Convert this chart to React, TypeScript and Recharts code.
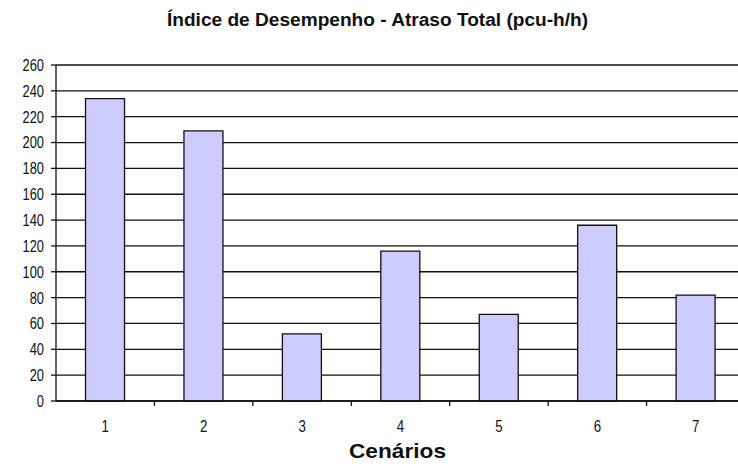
import { BarChart, Bar, XAxis, YAxis, CartesianGrid } from 'recharts';

const cenarios = ['1', '2', '3', '4', '5', '6', '7'];
const atraso = [234, 209, 52, 116, 67, 136, 82];
const yTicks = [0, 20, 40, 60, 80, 100, 120, 140, 160, 180, 200, 220, 240, 260];
const boundaryTicks = [1, 2, 3, 4, 5, 6];

// pos = centre of each category slot on the 0..7 boundary axis
const chartData = cenarios.map((name, i) => ({ name, value: atraso[i], pos: i + 0.5 }));

const FONT = '"Liberation Sans", Arial, sans-serif';

function YTick({ x, y, payload }: any) {
  return (
    <g transform={`translate(${x},${y})`}>
      <text textAnchor="end" dy="0.36em" fontSize={16.5} fill="#111" fontFamily={FONT} transform="scale(0.78,1)">
        {payload.value}
      </text>
    </g>
  );
}

function XTick({ x, y, payload }: any) {
  return (
    <g transform={`translate(${x},${y})`}>
      <text textAnchor="middle" y={30} fontSize={17} fill="#111" fontFamily={FONT} transform="scale(0.78,1)">
        {payload.value}
      </text>
    </g>
  );
}

function NoTick() {
  return <g />;
}

function AxisTitle({ viewBox }: any) {
  return (
    <text
      x={viewBox.x + viewBox.width / 2 - 3}
      y={458}
      textAnchor="middle"
      fontSize={21}
      fontWeight="bold"
      fill="#111"
      fontFamily={FONT}
      textLength={97}
      lengthAdjust="spacingAndGlyphs"
    >
      Cenários
    </text>
  );
}

export default function App() {
  return (
    <div style={{ position: 'absolute', left: 0, top: 0, width: 738, height: 464, overflow: 'hidden', background: '#fff' }}>
      <svg width={738} height={40} style={{ position: 'absolute', left: 0, top: 0 }}>
        <text
          x={377.5}
          y={26}
          textAnchor="middle"
          fontSize={18}
          fontWeight="bold"
          fill="#111"
          fontFamily={FONT}
          textLength={421}
          lengthAdjust="spacingAndGlyphs"
        >
          Índice de Desempenho - Atraso Total (pcu-h/h)
        </text>
      </svg>
      <BarChart
        width={750}
        height={464}
        data={chartData}
        margin={{ top: 65, right: 5, bottom: 0, left: 0 }}
        barCategoryGap="30%"
      >
        <CartesianGrid xAxisId="cat" vertical={false} stroke="#111" strokeWidth={1.3} />
        <XAxis
          xAxisId="cat"
          dataKey="name"
          tickLine={false}
          axisLine={false}
          tickSize={0}
          tickMargin={0}
          tick={<XTick />}
          height={62}
          interval={0}
          label={<AxisTitle />}
        />
        <XAxis
          xAxisId="a"
          dataKey="pos"
          type="number"
          domain={[0, 7]}
          allowDataOverflow
          ticks={boundaryTicks}
          tick={<NoTick />}
          tickSize={5}
          tickLine={{ stroke: '#111', strokeWidth: 1.3 }}
          axisLine={{ stroke: '#111', strokeWidth: 1.3 }}
          height={1}
          interval={0}
        />
        <YAxis
          domain={[0, 260]}
          ticks={yTicks}
          width={56}
          tickSize={5}
          tickMargin={7}
          tick={<YTick />}
          tickLine={{ stroke: '#111', strokeWidth: 1.3 }}
          axisLine={{ stroke: '#111', strokeWidth: 1.3 }}
          interval={0}
        />
        <Bar xAxisId="cat" dataKey="value" fill="#CCCCFF" stroke="#111" strokeWidth={1.3} isAnimationActive={false} />
      </BarChart>
    </div>
  );
}
